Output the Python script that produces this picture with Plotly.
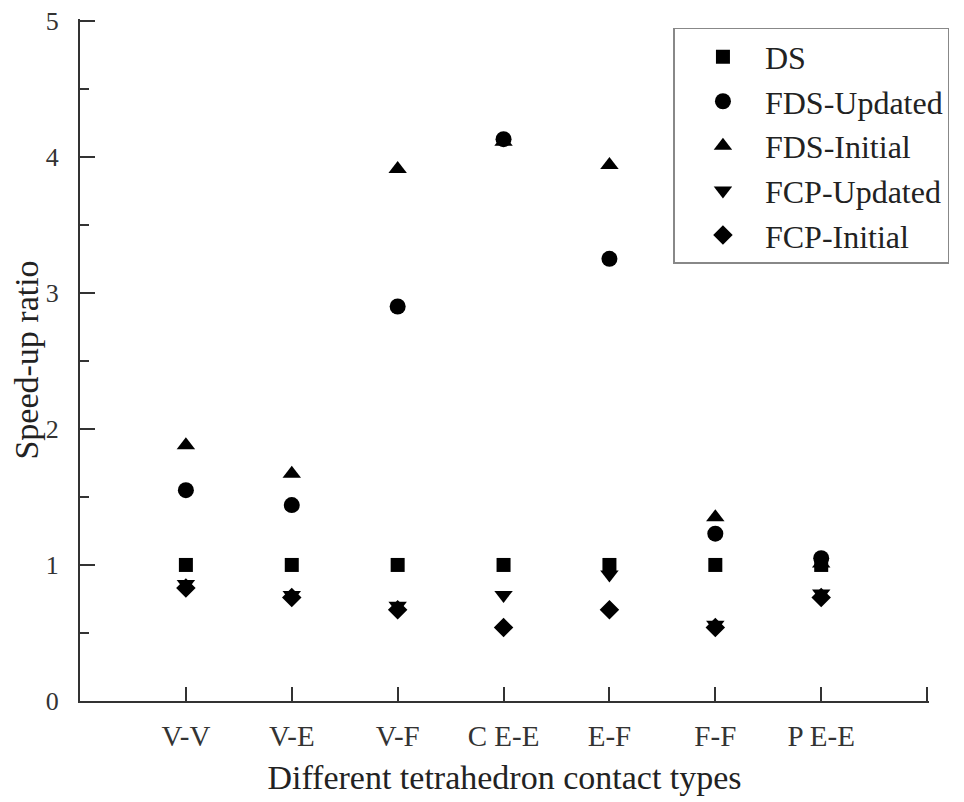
import plotly.graph_objects as go

categories = ["V-V", "V-E", "V-F", "C E-E", "E-F", "F-F", "P E-E"]
ds = [1.0, 1.0, 1.0, 1.0, 1.0, 1.0, 1.0]
fds_updated = [1.55, 1.44, 2.90, 4.13, 3.25, 1.23, 1.05]
fds_initial = [1.88, 1.67, 3.91, 4.11, 3.94, 1.35, 1.01]
fcp_updated = [0.86, 0.78, 0.70, 0.78, 0.93, 0.56, 0.79]
fcp_initial = [0.83, 0.76, 0.67, 0.54, 0.67, 0.54, 0.76]
y_ticks = [0, 1, 2, 3, 4, 5]

x_pos = list(range(1, len(categories) + 1))
FONT = "Liberation Serif"

series = [
    ("DS", ds, "square", 14),
    ("FDS-Updated", fds_updated, "circle", 16),
    ("FDS-Initial", fds_initial, "triangle-up", 16),
    ("FCP-Updated", fcp_updated, "triangle-down", 16),
    ("FCP-Initial", fcp_initial, "diamond", 15),
]

fig = go.Figure()
for name, vals, sym, size in series:
    fig.add_trace(go.Scatter(
        x=x_pos, y=vals, mode="markers", name=name, cliponaxis=False,
        marker=dict(symbol=sym, size=size, color="black", line=dict(width=0)),
    ))

fig.update_layout(
    width=956, height=794,
    margin=dict(l=72, r=35, t=11, b=101),
    paper_bgcolor="white", plot_bgcolor="white",
    font=dict(family=FONT, color="#222"),
    showlegend=True,
    legend=dict(
        x=0.699, y=0.987, xanchor="left", yanchor="top",
        bordercolor="#888", borderwidth=1.5, bgcolor="white",
        font=dict(family=FONT, size=32, color="#222"),
        itemwidth=74, indentation=6,
        tracegroupgap=0,
    ),
)
fig.update_xaxes(
    range=[0, 8.018], tickmode="array", automargin=False,
    tickvals=x_pos + [len(categories) + 1],
    ticktext=categories + [""],
    showgrid=False, zeroline=False,
    showline=True, linecolor="#333", linewidth=2,
    ticks="inside", ticklen=14, tickwidth=2, tickcolor="#333",
    tickfont=dict(family=FONT, size=29, color="#333"),
    ticklabelstandoff=8, ticklabeloverflow="allow",
    title=dict(text="Different tetrahedron contact types",
               font=dict(family=FONT, size=34, color="#222"), standoff=14),
)
fig.update_yaxes(
    range=[0, 5.013], tickmode="array", tickvals=y_ticks, automargin=False,
    showgrid=False, zeroline=False,
    showline=True, linecolor="#333", linewidth=2,
    ticks="inside", ticklen=15, tickwidth=2, tickcolor="#333",
    minor=dict(ticks="inside", ticklen=9, tickwidth=2, tickcolor="#333", dtick=0.5, showgrid=False),
    tickfont=dict(family=FONT, size=26, color="#333"),
    ticklabelstandoff=14, ticklabeloverflow="allow",
    title=dict(text="Speed-up ratio",
               font=dict(family=FONT, size=34, color="#222"), standoff=8),
)

fig.write_html("out.html")
